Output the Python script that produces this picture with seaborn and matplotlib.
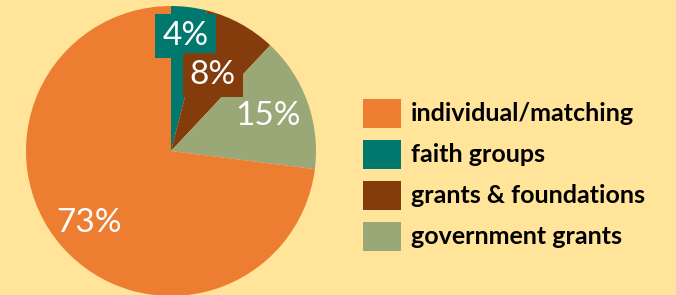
import matplotlib
matplotlib.use("Agg")
import matplotlib.pyplot as plt
import seaborn as sns
import numpy as np
from matplotlib.patches import Rectangle

# Data
pie_categories = ["faith groups", "grants & foundations", "government grants", "individual/matching"]
pie_values = [4, 8, 15, 73]
legend_order = ["individual/matching", "faith groups", "grants & foundations", "government grants"]

color_map = {
    "individual/matching": "#ED7D31",
    "faith groups": "#00786E",
    "grants & foundations": "#843C0C",
    "government grants": "#9AA877",
}
label_radius = {"faith groups": 0.80, "grants & foundations": 0.60,
                "government grants": 0.71, "individual/matching": 0.75}
label_box = {"faith groups": True, "grants & foundations": True,
             "government grants": False, "individual/matching": False}

sns.set_theme(style="white")
plt.rcParams["font.family"] = ["Lato", "DejaVu Sans"]

BG = "#FFE499"
W, H = 676, 295
fig = plt.figure(figsize=(W / 100, H / 100), dpi=100, facecolor=BG)

cx, cy, R = 171, 151, 145
ax = fig.add_axes([(cx - R) / W, (H - cy - R) / H, 2 * R / W, 2 * R / H])
ax.set_facecolor(BG)
colors = sns.color_palette([color_map[c] for c in pie_categories])
wedges, _ = ax.pie(pie_values, colors=colors, startangle=90, counterclock=False,
                   radius=1, wedgeprops=dict(linewidth=0))
ax.set_xlim(-1, 1)
ax.set_ylim(-1, 1)
ax.set_aspect("equal")
ax.axis("off")

total = sum(pie_values)
cum = 0
for cat, v in zip(pie_categories, pie_values):
    mid = (cum + v / 2) / total * 360
    cum += v
    ang = np.deg2rad(90 - mid)
    r = label_radius[cat]
    x, y = r * np.cos(ang), r * np.sin(ang)
    kw = {}
    if label_box[cat]:
        kw["bbox"] = dict(boxstyle="square,pad=0.21", fc=color_map[cat], ec="none")
    ax.text(x, y, f"{v}%", ha="center", va="center", color="white",
            fontsize=24, clip_on=False, **kw)

# Legend
x0 = 363 / W
for i, cat in enumerate(legend_order):
    top = 99 + i * 41
    fig.patches.append(Rectangle((x0, (H - top - 29) / H), 38 / W, 29 / H,
                                 transform=fig.transFigure, fc=color_map[cat], ec="none"))
    fig.text(411 / W, (H - top - 14.5) / H, cat, ha="left", va="center",
             fontsize=18, fontweight="bold", color="black")

fig.savefig("out.png", dpi=100, facecolor=BG)
